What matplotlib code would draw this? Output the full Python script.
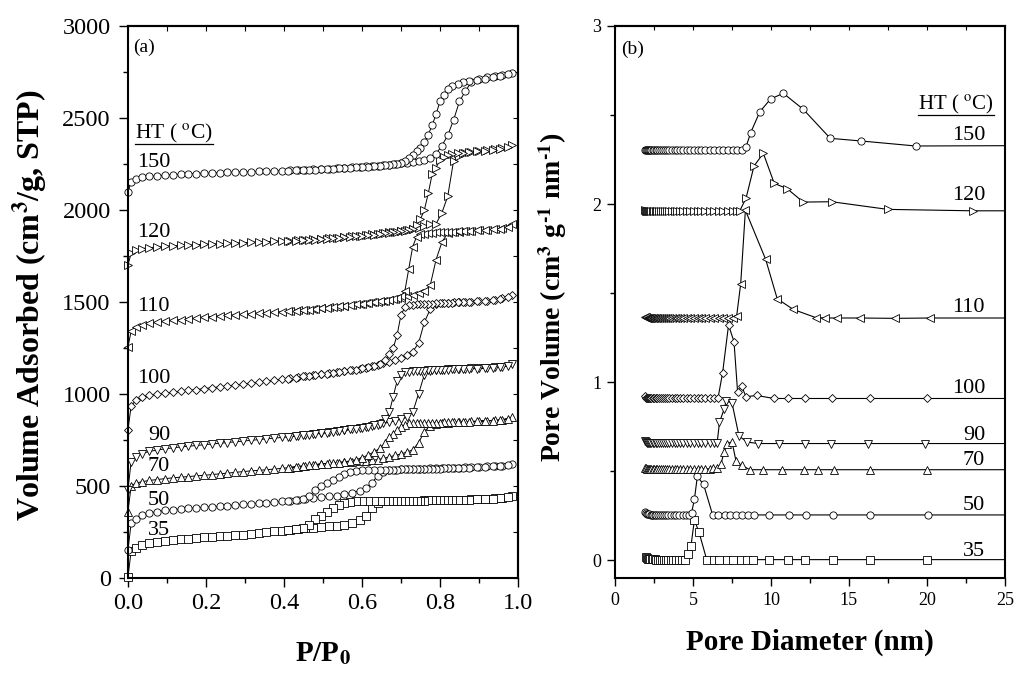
import matplotlib
matplotlib.use("Agg")
import matplotlib.pyplot as plt
from matplotlib.lines import Line2D
from matplotlib.ticker import MultipleLocator, FormatStrFormatter

plt.rcParams["font.family"] = ["Liberation Serif", "DejaVu Serif"]
plt.rcParams["mathtext.fontset"] = "stix"

# ---------------- (a) N2 isotherms ----------------
P_ADS = [0.0, 0.008, 0.02, 0.035, 0.055, 0.075, 0.095, 0.115, 0.135, 0.155,
         0.175, 0.195, 0.215, 0.235, 0.255, 0.275, 0.295, 0.315, 0.335, 0.355,
         0.375, 0.395, 0.415, 0.435, 0.455, 0.475, 0.495, 0.515, 0.535, 0.555,
         0.575, 0.595, 0.61, 0.625, 0.64, 0.655, 0.67, 0.685, 0.70, 0.715,
         0.73, 0.745, 0.76, 0.775, 0.79, 0.805, 0.82, 0.835, 0.85, 0.865,
         0.88, 0.90, 0.92, 0.94, 0.96, 0.985]
P_DES = [0.975, 0.955, 0.935, 0.915, 0.895, 0.875, 0.86, 0.845, 0.83, 0.82,
         0.81, 0.80, 0.79, 0.78, 0.77, 0.76, 0.75, 0.74, 0.73, 0.72,
         0.71, 0.70, 0.69, 0.68, 0.67, 0.66, 0.645, 0.63, 0.615, 0.60,
         0.585, 0.57, 0.555, 0.54, 0.525, 0.51, 0.495, 0.48, 0.465, 0.45,
         0.43, 0.41]

ADS_35 = [5, 145, 162, 178, 190, 197, 203, 207, 211, 214,
          218, 221, 224, 227, 230, 233, 236, 241, 245, 249,
          253, 258, 262, 266, 270, 274, 277, 280, 283, 287,
          297, 315, 338, 382, 410, 416, 418, 419, 420, 420,
          421, 421, 422, 422, 423, 423, 424, 424, 425, 426,
          427, 428, 430, 432, 435, 446]
DES_35 = [438, 434, 431, 429, 428, 426, 425, 424, 424, 423,
          423, 423, 422, 422, 422, 421, 421, 421, 420, 420,
          420, 420, 419, 419, 419, 419, 418, 418, 418, 418,
          417, 413, 405, 394, 378, 358, 335, 318, 290, 271,
          266, 262]

ADS_50 = [152, 297, 320, 340, 353, 361, 367, 371, 375, 378,
          381, 384, 387, 390, 393, 396, 400, 404, 407, 410,
          413, 416, 420, 424, 428, 435, 440, 443, 446, 455,
          464, 475, 488, 515, 555, 578, 586, 589, 591, 592,
          592, 593, 594, 595, 596, 597, 598, 599, 600, 601,
          602, 604, 606, 608, 611, 620]
DES_50 = [614, 609, 606, 603, 601, 599, 598, 597, 596, 595,
          595, 594, 594, 593, 593, 592, 592, 591, 591, 590,
          590, 590, 589, 589, 588, 588, 587, 587, 586, 585,
          582, 577, 565, 548, 532, 516, 500, 480, 445, 430,
          425, 419]

ADS_70 = [360, 500, 515, 523, 530, 535, 540, 544, 548, 551,
          555, 558, 562, 566, 570, 574, 578, 582, 585, 588,
          592, 596, 600, 605, 610, 615, 620, 624, 627, 630,
          633, 636, 638, 640, 643, 650, 658, 666, 674, 684,
          696, 735, 795, 828, 837, 840, 843, 845, 847, 849,
          851, 853, 855, 857, 860, 873]
DES_70 = [865, 858, 855, 853, 851, 849, 848, 847, 846, 845,
          845, 844, 844, 843, 843, 842, 842, 841, 840, 840,
          833, 822, 805, 785, 765, 735, 704, 684, 668, 653,
          643, 636, 631, 627, 624, 622, 619, 616, 612, 609,
          604, 600]

ADS_90 = [480, 632, 660, 676, 688, 695, 702, 707, 712, 716,
          720, 724, 728, 732, 736, 740, 744, 748, 752, 756,
          760, 764, 768, 773, 777, 782, 787, 792, 797, 803,
          809, 816, 821, 827, 833, 840, 847, 855, 862, 873,
          900, 1000, 1105, 1126, 1130, 1132, 1134, 1136, 1137, 1138,
          1139, 1141, 1143, 1145, 1148, 1163]
DES_90 = [1152, 1146, 1143, 1140, 1138, 1137, 1136, 1135, 1134, 1133,
          1132, 1131, 1130, 1129, 1128, 1127, 1126, 1125, 1123, 1121,
          1118, 1105, 1070, 985, 900, 862, 838, 829, 822, 817,
          812, 807, 802, 798, 794, 790, 786, 783, 779, 776,
          771, 767]

ADS_100 = [804, 935, 965, 982, 992, 998, 1004, 1009, 1014, 1019,
           1024, 1029, 1034, 1039, 1044, 1049, 1054, 1059, 1064, 1069,
           1074, 1079, 1085, 1090, 1096, 1102, 1108, 1112, 1118, 1124,
           1130, 1137, 1143, 1150, 1158, 1167, 1175, 1184, 1195, 1212,
           1230, 1275, 1390, 1460, 1487, 1494, 1497, 1499, 1500, 1501,
           1502, 1505, 1508, 1513, 1520, 1538]
DES_100 = [1526, 1516, 1511, 1507, 1504, 1502, 1500, 1498, 1496, 1495,
           1494, 1493, 1492, 1491, 1490, 1489, 1488, 1487, 1485, 1482,
           1471, 1429, 1320, 1248, 1215, 1185, 1162, 1154, 1145, 1139,
           1133, 1128, 1123, 1119, 1114, 1110, 1107, 1103, 1099, 1095,
           1089, 1083]

ADS_110 = [1257, 1340, 1366, 1376, 1384, 1390, 1395, 1400, 1404, 1408,
           1412, 1418, 1421, 1424, 1427, 1430, 1433, 1436, 1439, 1441,
           1444, 1447, 1450, 1454, 1458, 1461, 1465, 1470, 1475, 1480,
           1485, 1490, 1494, 1498, 1502, 1507, 1512, 1517, 1522, 1530,
           1538, 1547, 1558, 1590, 1730, 1825, 1875, 1880, 1883, 1886,
           1888, 1890, 1893, 1896, 1902, 1924]
DES_110 = [1910, 1898, 1894, 1891, 1889, 1887, 1886, 1884, 1883, 1882,
           1881, 1880, 1878, 1876, 1874, 1871, 1868, 1855, 1800, 1680,
           1560, 1530, 1519, 1515, 1511, 1508, 1503, 1499, 1495, 1491,
           1487, 1484, 1480, 1476, 1472, 1468, 1465, 1462, 1459, 1456,
           1453, 1449]

ADS_120 = [1701, 1765, 1783, 1790, 1795, 1799, 1802, 1805, 1807, 1809,
           1811, 1813, 1815, 1817, 1818, 1820, 1822, 1824, 1826, 1828,
           1830, 1832, 1834, 1836, 1838, 1841, 1844, 1847, 1850, 1853,
           1857, 1861, 1864, 1867, 1870, 1874, 1878, 1882, 1886, 1891,
           1897, 1904, 1912, 1922, 1925, 1985, 2075, 2268, 2295, 2310,
           2316, 2321, 2325, 2329, 2335, 2353]
DES_120 = [2340, 2331, 2326, 2322, 2318, 2314, 2311, 2308, 2303, 2297,
           2290, 2272, 2230, 2195, 2090, 2000, 1950, 1918, 1898, 1892,
           1888, 1885, 1882, 1879, 1876, 1873, 1869, 1866, 1863, 1860,
           1857, 1855, 1852, 1849, 1846, 1843, 1841, 1839, 1837, 1835,
           1833, 1831]

ADS_150 = [2096, 2154, 2170, 2177, 2182, 2186, 2189, 2192, 2194, 2196,
           2198, 2200, 2201, 2203, 2204, 2206, 2207, 2208, 2210, 2211,
           2213, 2214, 2216, 2218, 2219, 2221, 2223, 2225, 2227, 2229,
           2232, 2235, 2237, 2239, 2241, 2244, 2247, 2250, 2254, 2258,
           2262, 2267, 2274, 2284, 2305, 2350, 2405, 2490, 2590, 2645,
           2695, 2712, 2721, 2728, 2735, 2746]
DES_150 = [2738, 2730, 2722, 2714, 2707, 2700, 2694, 2686, 2673, 2655,
           2625, 2590, 2520, 2460, 2410, 2370, 2338, 2318, 2298, 2280,
           2268, 2258, 2252, 2249, 2246, 2244, 2241, 2238, 2236, 2234,
           2232, 2230, 2228, 2226, 2224, 2222, 2221, 2219, 2218, 2217,
           2215, 2213]

# ---------------- (b) pore size distributions ----------------
D_FINE = [1.92, 1.98, 2.04, 2.11, 2.18, 2.26, 2.34, 2.43, 2.52, 2.62,
          2.72, 2.83, 2.95, 3.07, 3.2, 3.34, 3.49, 3.65, 3.82, 4.0,
          4.19, 4.39, 4.6, 4.82, 5.05, 5.29, 5.54, 5.8, 6.07]

D_35 = [1.97, 2.04, 2.11, 2.19, 2.27, 2.36, 2.45, 2.55, 2.65, 2.76,
        2.88, 3.0, 3.13, 3.27, 3.42, 3.58, 3.75, 3.93, 4.12, 4.32,
        4.5, 4.7, 4.87, 5.09, 5.38, 5.88, 6.33, 6.69, 7.16, 7.58,
        8.06, 8.48, 8.87, 9.89, 11.09, 12.16, 13.96, 16.35, 19.98, 26.0]
V_35 = [0.016, 0.012, 0.009, 0.007, 0.006, 0.005, 0.004, 0.004, 0.003, 0.003,
        0.003, 0.002, 0.002, 0.002, 0.002, 0.002, 0.002, 0.002, 0.002, 0.002,
        0.002, 0.032, 0.079, 0.225, 0.159, 0.003, 0.003, 0.003, 0.003, 0.003,
        0.003, 0.003, 0.003, 0.003, 0.003, 0.003, 0.003, 0.003, 0.003, 0.003]

D_50 = [1.92, 1.98, 2.05, 2.12, 2.2, 2.28, 2.37, 2.46, 2.56, 2.66,
        2.77, 2.89, 3.01, 3.14, 3.28, 3.43, 3.59, 3.76, 3.94, 4.13,
        4.33, 4.54, 4.75, 4.91, 5.09, 5.28, 5.68, 6.26, 6.63, 7.05,
        7.39, 7.78, 8.12, 8.51, 8.93, 9.89, 11.17, 12.24, 13.96, 16.35,
        20.08, 26.0]
V_50 = [0.272, 0.264, 0.260, 0.258, 0.257, 0.256, 0.255, 0.255, 0.255, 0.254,
        0.254, 0.254, 0.254, 0.254, 0.254, 0.254, 0.254, 0.254, 0.254, 0.254,
        0.254, 0.254, 0.256, 0.266, 0.341, 0.470, 0.425, 0.254, 0.254, 0.254,
        0.254, 0.254, 0.254, 0.254, 0.254, 0.254, 0.254, 0.254, 0.254, 0.254,
        0.254, 0.254]

D_70 = D_FINE + [6.3, 6.52, 6.79, 6.99, 7.2, 7.5, 7.76, 8.12, 8.65, 9.51,
                 10.68, 12.12, 13.03, 14.06, 16.35, 19.98, 26.0]
V_70 = [0.520, 0.515, 0.513, 0.513, 0.513, 0.513, 0.513, 0.513, 0.513, 0.513,
        0.513, 0.513, 0.513, 0.513, 0.513, 0.513, 0.513, 0.513, 0.513, 0.513,
        0.513, 0.513, 0.513, 0.513, 0.513, 0.513, 0.513, 0.513, 0.513, 0.515,
        0.518, 0.538, 0.607, 0.654, 0.665, 0.556, 0.532, 0.508, 0.508, 0.508,
        0.508, 0.508, 0.508, 0.508, 0.508, 0.508]

D_90 = D_FINE + [6.33, 6.55, 6.7, 6.99, 7.12, 7.5, 7.95, 8.48, 9.19, 10.53,
                 12.18, 13.85, 16.24, 19.87, 26.0]
V_90 = [0.668, 0.662, 0.660, 0.660, 0.660, 0.660, 0.660, 0.660, 0.660, 0.660,
        0.660, 0.660, 0.660, 0.660, 0.660, 0.660, 0.660, 0.660, 0.660, 0.660,
        0.660, 0.660, 0.660, 0.660, 0.660, 0.660, 0.660, 0.660, 0.660, 0.660,
        0.660, 0.775, 0.847, 0.893, 0.884, 0.697, 0.663, 0.655, 0.655, 0.655,
        0.655, 0.655, 0.655, 0.655]

D_100 = D_FINE + [6.35, 6.6, 6.9, 7.28, 7.63, 7.86, 8.12, 8.4, 9.08, 10.19,
                  11.11, 12.18, 13.89, 16.35, 19.98, 26.0]
V_100 = [0.922, 0.912, 0.908, 0.908, 0.908, 0.908, 0.908, 0.908, 0.908, 0.908,
         0.908, 0.908, 0.908, 0.908, 0.908, 0.908, 0.908, 0.908, 0.908, 0.908,
         0.908, 0.908, 0.908, 0.908, 0.908, 0.908, 0.908, 0.908, 0.908, 0.908,
         0.908, 1.053, 1.320, 1.227, 0.944, 0.976, 0.918, 0.925, 0.908, 0.908,
         0.908, 0.908, 0.908, 0.908, 0.908]

D_110 = D_FINE + [6.35, 6.64, 6.94, 7.25, 7.55, 7.8, 8.06, 8.36, 9.66, 10.4,
                  11.43, 12.88, 13.46, 14.25, 15.7, 17.95, 20.19, 26.0]
V_110 = [1.368, 1.364, 1.362, 1.362, 1.362, 1.362, 1.362, 1.362, 1.362, 1.362,
         1.362, 1.362, 1.362, 1.362, 1.362, 1.362, 1.362, 1.362, 1.362, 1.362,
         1.362, 1.362, 1.362, 1.362, 1.362, 1.362, 1.362, 1.362, 1.362, 1.362,
         1.362, 1.362, 1.362, 1.362, 1.371, 1.553, 1.965, 1.689, 1.468, 1.408,
         1.362, 1.360, 1.360, 1.360, 1.358, 1.360, 1.360]

D_120 = D_FINE + [6.35, 6.64, 6.94, 7.25, 7.55, 7.8, 8.0, 8.4, 8.91, 9.51,
                  10.21, 11.04, 12.07, 13.89, 17.48, 22.93, 26.0]
V_120 = [1.964, 1.962, 1.962, 1.962, 1.962, 1.962, 1.962, 1.962, 1.962, 1.962,
         1.962, 1.962, 1.962, 1.962, 1.962, 1.962, 1.962, 1.962, 1.962, 1.962,
         1.962, 1.962, 1.962, 1.962, 1.962, 1.962, 1.962, 1.962, 1.962, 1.962,
         1.962, 1.962, 1.962, 1.962, 1.962, 1.962, 2.032, 2.213, 2.285, 2.116,
         2.086, 2.011, 2.013, 1.970, 1.962, 1.962]

D_150 = D_FINE + [6.35, 6.64, 6.94, 7.25, 7.55, 7.85, 8.16, 8.4, 8.7, 9.29,
                  9.98, 10.79, 12.07, 13.8, 15.79, 19.28, 26.0]
V_150 = [2.304, 2.302, 2.302, 2.302, 2.302, 2.302, 2.302, 2.302, 2.302, 2.302,
         2.302, 2.302, 2.302, 2.302, 2.302, 2.302, 2.302, 2.302, 2.302, 2.302,
         2.302, 2.302, 2.302, 2.302, 2.302, 2.302, 2.302, 2.302, 2.302, 2.302,
         2.302, 2.302, 2.302, 2.302, 2.302, 2.302, 2.320, 2.401, 2.519, 2.590,
         2.622, 2.532, 2.369, 2.354, 2.326, 2.328]

SAMPLES = ["35", "50", "70", "90", "100", "110", "120", "150"]
MARKERS = ["s", "o", "^", "v", "D", "<", ">", "o"]
ISOTHERMS = [(ADS_35, DES_35), (ADS_50, DES_50), (ADS_70, DES_70), (ADS_90, DES_90),
             (ADS_100, DES_100), (ADS_110, DES_110), (ADS_120, DES_120), (ADS_150, DES_150)]
PSD = [(D_35, V_35), (D_50, V_50), (D_70, V_70), (D_90, V_90),
       (D_100, V_100), (D_110, V_110), (D_120, V_120), (D_150, V_150)]

# label baselines (axes fraction)
LABEL_Y_A = [0.078, 0.132, 0.193, 0.250, 0.353, 0.484, 0.617, 0.745]
LABEL_Y_B = [0.040, 0.123, 0.205, 0.250, 0.336, 0.482, 0.685, 0.794]


def marker_size(m):
    return 4.3 if m == "D" else 5.2


def style_axes(ax, out_len, in_len, labelsize, pad):
    for sp in ax.spines.values():
        sp.set_linewidth(1.5)
    ax.tick_params(which="both", direction="out", top=False, right=False,
                   width=1.0, labelsize=labelsize, pad=pad)
    ax.tick_params(which="major", length=out_len)
    ax.tick_params(which="minor", length=out_len * 0.55)
    top = ax.secondary_xaxis("top")
    top.xaxis.set_major_locator(ax.xaxis.get_major_locator())
    top.xaxis.set_minor_locator(ax.xaxis.get_minor_locator())
    top.tick_params(which="both", direction="in", labeltop=False, width=0.8, length=in_len)
    top.spines["top"].set_linewidth(1.5)
    return top


fig = plt.figure(figsize=(10.15, 6.73), dpi=100)
ax_a = fig.add_axes([0.1261, 0.1412, 0.3842, 0.8202])
ax_b = fig.add_axes([0.6059, 0.1412, 0.3842, 0.8202])

# ---- panel (a)
for (ads, des), m in zip(ISOTHERMS, MARKERS):
    ax_a.plot(P_ADS + P_DES, ads + des, color="black", lw=0.7, marker=m,
              ms=marker_size(m), mfc="white", mec="black", mew=0.6, clip_on=False)
ax_a.set_xlim(0, 1.0)
ax_a.set_ylim(0, 3000)
ax_a.xaxis.set_major_locator(MultipleLocator(0.2))
ax_a.xaxis.set_minor_locator(MultipleLocator(0.1))
ax_a.xaxis.set_major_formatter(FormatStrFormatter("%.1f"))
ax_a.yaxis.set_major_locator(MultipleLocator(500))
ax_a.yaxis.set_minor_locator(MultipleLocator(250))
style_axes(ax_a, 6.5, 3.5, 17.5, 4)
ax_a.tick_params(axis="y", pad=6)
right = ax_a.secondary_yaxis("right")
right.yaxis.set_major_locator(MultipleLocator(250))
right.tick_params(which="both", direction="in", labelright=False, width=0.8, length=3.5)
right.spines["right"].set_linewidth(1.5)

ax_a.text(0.014, 0.953, "(a)", transform=ax_a.transAxes, fontsize=14, va="baseline")
ht_a = ax_a.text(0.018, 0.797, "HT ( $^{\\rm o}$C)", transform=ax_a.transAxes,
                 fontsize=15.5, va="baseline")
for name, y in zip(SAMPLES, LABEL_Y_A):
    ax_a.text(0.108, y, name, transform=ax_a.transAxes, fontsize=16, ha="right", va="baseline")

# ---- panel (b)
for (d, v), m in zip(PSD, MARKERS):
    ax_b.plot(d, v, color="black", lw=0.8, marker=m, ms=marker_size(m),
              mfc="white", mec="black", mew=0.6)
ax_b.set_xlim(0, 25)
ax_b.set_ylim(-0.1, 3)
ax_b.xaxis.set_major_locator(MultipleLocator(5))
ax_b.xaxis.set_minor_locator(MultipleLocator(2.5))
ax_b.set_yticks([0, 1, 2, 3])
ax_b.yaxis.set_minor_locator(MultipleLocator(0.5))
style_axes(ax_b, 6.0, 3.0, 13, 4)

ax_b.text(0.017, 0.949, "(b)", transform=ax_b.transAxes, fontsize=14, va="baseline")
ht_b = ax_b.text(0.777, 0.848, "HT ( $^{\\rm o}$C)", transform=ax_b.transAxes,
                 fontsize=15, va="baseline")
for name, y in zip(SAMPLES, LABEL_Y_B):
    ax_b.text(0.949, y, name, transform=ax_b.transAxes, fontsize=16, ha="right", va="baseline")

# axis titles
fig.text(30 / 1015, 1 - 305 / 673, "Volume Adsorbed (cm$^{\\mathbf{3}}$/g, STP)",
         rotation=90, ha="center", va="center", fontsize=23, fontweight="bold")
fig.text(323 / 1015, 1 - 661 / 673, "P/P$_{\\mathbf{0}}$", ha="center", va="baseline",
         fontsize=21, fontweight="bold")
fig.text(553 / 1015, 1 - 297 / 673,
         "Pore Volume (cm$^{\\mathbf{3}}$ g$^{\\mathbf{\u20101}}$ nm$^{\\mathbf{\u20101}}$)",
         rotation=90, ha="center", va="center", fontsize=20, fontweight="bold")
fig.text(810 / 1015, 1 - 650 / 673, "Pore Diameter (nm)", ha="center", va="baseline",
         fontsize=21, fontweight="bold")

# underline the HT headers
fig.canvas.draw()
inv = fig.transFigure.inverted()
for t in (ht_a, ht_b):
    bb = t.get_window_extent()
    (x0, y0), (x1, _) = inv.transform([(bb.x0, bb.y0 + 1), (bb.x1, bb.y1)])
    fig.add_artist(Line2D([x0, x1], [y0, y0], color="black", lw=0.9,
                          transform=fig.transFigure))

fig.savefig("out.png", dpi=100)
